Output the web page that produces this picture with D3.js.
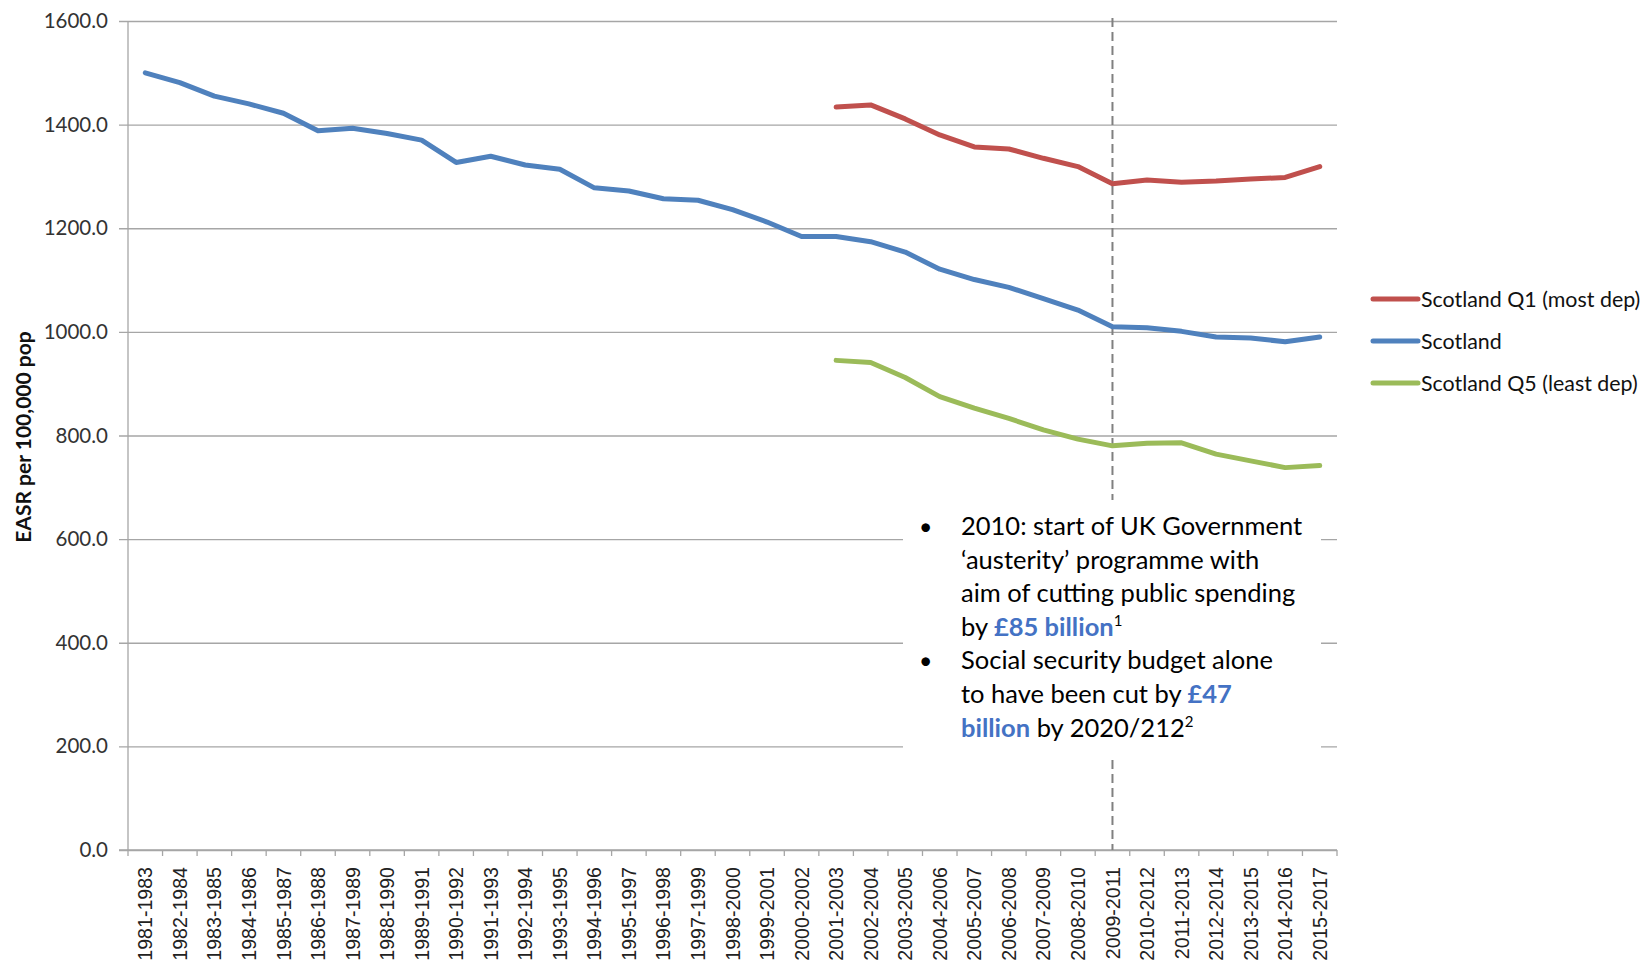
<!DOCTYPE html>
<html><head><meta charset="utf-8">
<script src="https://cdn.jsdelivr.net/npm/d3@7"></script>
<style>body{margin:0;background:#fff}</style>
</head><body><svg id="chart" width="1643" height="968"></svg>
<script>
const categories = ["1981-1983","1982-1984","1983-1985","1984-1986","1985-1987","1986-1988","1987-1989","1988-1990","1989-1991","1990-1992","1991-1993","1992-1994","1993-1995","1994-1996","1995-1997","1996-1998","1997-1999","1998-2000","1999-2001","2000-2002","2001-2003","2002-2004","2003-2005","2004-2006","2005-2007","2006-2008","2007-2009","2008-2010","2009-2011","2010-2012","2011-2013","2012-2014","2013-2015","2014-2016","2015-2017"];
const scotland = [1500,1481,1455,1440,1422,1388,1393,1383,1370,1327,1339,1322,1314,1278,1272,1257,1254,1236,1212,1184,1184,1174,1154,1121,1101,1086,1064,1042,1010,1008,1001,990,988,981,990];
const q1 = [null,null,null,null,null,null,null,null,null,null,null,null,null,null,null,null,null,null,null,null,1434,1438,1411,1380,1357,1353,1335,1319,1286,1293,1289,1291,1295,1298,1319];
const q5 = [null,null,null,null,null,null,null,null,null,null,null,null,null,null,null,null,null,null,null,null,945,941,912,875,853,833,811,793,780,785,786,764,751,738,742];
const yTicks = [0,200,400,600,800,1000,1200,1400,1600];
const seriesNames = ["Scotland Q1 (most dep)","Scotland","Scotland Q5 (least dep)"];
const seriesColors = ["#C0504D","#4F81BD","#9BBB59"];
const markerCategory = "2009-2011";
const yTitle = "EASR per 100,000 pop";

const svg = d3.select("#chart");
const pLeft = 128, pRight = 1337, pTop = 21, pBottom = 850;
const x = d3.scaleBand().domain(categories).range([pLeft, pRight]).padding(0);
const y = d3.scaleLinear().domain([0, 1600]).range([pBottom, pTop]);
const gridColor = "#a6a6a6";
const font = "Lato, 'Open Sans', sans-serif";

// gridlines + y labels
const yAxis = d3.axisLeft(y).tickValues(yTicks).tickFormat(d3.format(".1f"))
  .tickSize(pRight - 119).tickPadding(11);
const gy = svg.append("g").attr("transform", `translate(${pRight},0)`).call(yAxis);
gy.select(".domain").remove();
gy.selectAll(".tick line").attr("stroke", gridColor).attr("stroke-width", 1.3);
gy.selectAll(".tick text").attr("font-family", font).attr("font-size", 20.5).attr("fill", "#333");

// y axis line
svg.append("line").attr("x1", pLeft).attr("x2", pLeft).attr("y1", pTop).attr("y2", pBottom)
  .attr("stroke", gridColor).attr("stroke-width", 1.3);

// x axis ticks at boundaries
const bounds = categories.map(c => x(c)).concat([pRight]);
svg.append("g").selectAll("line").data(bounds).join("line")
  .attr("x1", d => d).attr("x2", d => d).attr("y1", pBottom).attr("y2", pBottom + 6)
  .attr("stroke", gridColor).attr("stroke-width", 1.3);
const xAxis = d3.axisBottom(x).tickSize(0).tickPadding(0);
const gx = svg.append("g").attr("transform", `translate(0,${pBottom})`).call(xAxis);
gx.select(".domain").remove();
gx.selectAll(".tick text").attr("font-family", "'Liberation Sans', Arial, sans-serif")
  .attr("font-size", 19.6).attr("fill", "#222")
  .attr("text-anchor", "end").attr("transform", "rotate(-90)")
  .attr("x", -17).attr("y", 0).attr("dy", "0.36em");
svg.append("line").attr("x1", 119).attr("x2", pRight).attr("y1", pBottom).attr("y2", pBottom)
  .attr("stroke", gridColor).attr("stroke-width", 1.3);

// y title
svg.append("text").attr("transform", `translate(31,437) rotate(-90)`)
  .attr("text-anchor", "middle").attr("font-family", font).attr("font-weight", "bold")
  .attr("font-size", 21).attr("fill", "#111").text(yTitle);

// dashed marker
const mx = x(markerCategory) + x.bandwidth() / 2;
svg.append("line").attr("x1", mx).attr("x2", mx).attr("y1", 18).attr("y2", pBottom)
  .attr("stroke", "#808080").attr("stroke-width", 2).attr("stroke-dasharray", "9,5");

// series lines
const series = [q1, scotland, q5];
const line = d3.line().defined(d => d.v != null).x(d => x(d.c) + x.bandwidth() / 2).y(d => y(d.v));
series.forEach((vals, i) => {
  svg.append("path").datum(categories.map((c, j) => ({c, v: vals[j]})))
    .attr("d", line).attr("fill", "none").attr("stroke", seriesColors[i])
    .attr("stroke-width", 5).attr("stroke-linejoin", "round").attr("stroke-linecap", "round");
});

// legend
const lg = svg.append("g");
seriesNames.forEach((n, i) => {
  const ly = 299 + i * 42;
  lg.append("line").attr("x1", 1373).attr("x2", 1418).attr("y1", ly).attr("y2", ly)
    .attr("stroke", seriesColors[i]).attr("stroke-width", 5).attr("stroke-linecap", "round");
  lg.append("text").attr("x", 1421).attr("y", ly).attr("dy", "0.36em")
    .attr("font-family", font).attr("font-size", 21.4).attr("fill", "#111").text(n);
});

// annotation box
svg.append("rect").attr("x", 903).attr("y", 500).attr("width", 418).attr("height", 255).attr("fill", "#fff");
const blue = "#4472C4";
const ann = [
  {b: true, parts: [["2010: start of UK Government"]]},
  {parts: [["\u2018austerity\u2019 programme with"]]},
  {parts: [["aim of cutting public spending"]]},
  {parts: [["by "], ["\u00a385 billion", "bold"], ["1", "sup"]]},
  {b: true, parts: [["Social security budget alone"]]},
  {parts: [["to have been cut by "], ["\u00a347", "bold"]]},
  {parts: [["billion", "bold"], [" by 2020/212"], ["2", "sup"]]}
];
const ag = svg.append("g").attr("font-family", font).attr("font-size", 25.5).attr("fill", "#000");
ann.forEach((ln, i) => {
  const by = 535 + i * 33.6;
  if (ln.b) ag.append("text").attr("x", 919).attr("y", by).attr("font-size", 23).text("\u2022");
  const t = ag.append("text").attr("x", 961).attr("y", by).attr("xml:space", "preserve");
  ln.parts.forEach(p => {
    const s = t.append("tspan").text(p[0]);
    if (p[1] === "bold") s.attr("font-weight", "bold").attr("fill", blue);
    if (p[1] === "sup") s.attr("font-size", 15).attr("baseline-shift", "10");
  });
});
</script></body></html>
